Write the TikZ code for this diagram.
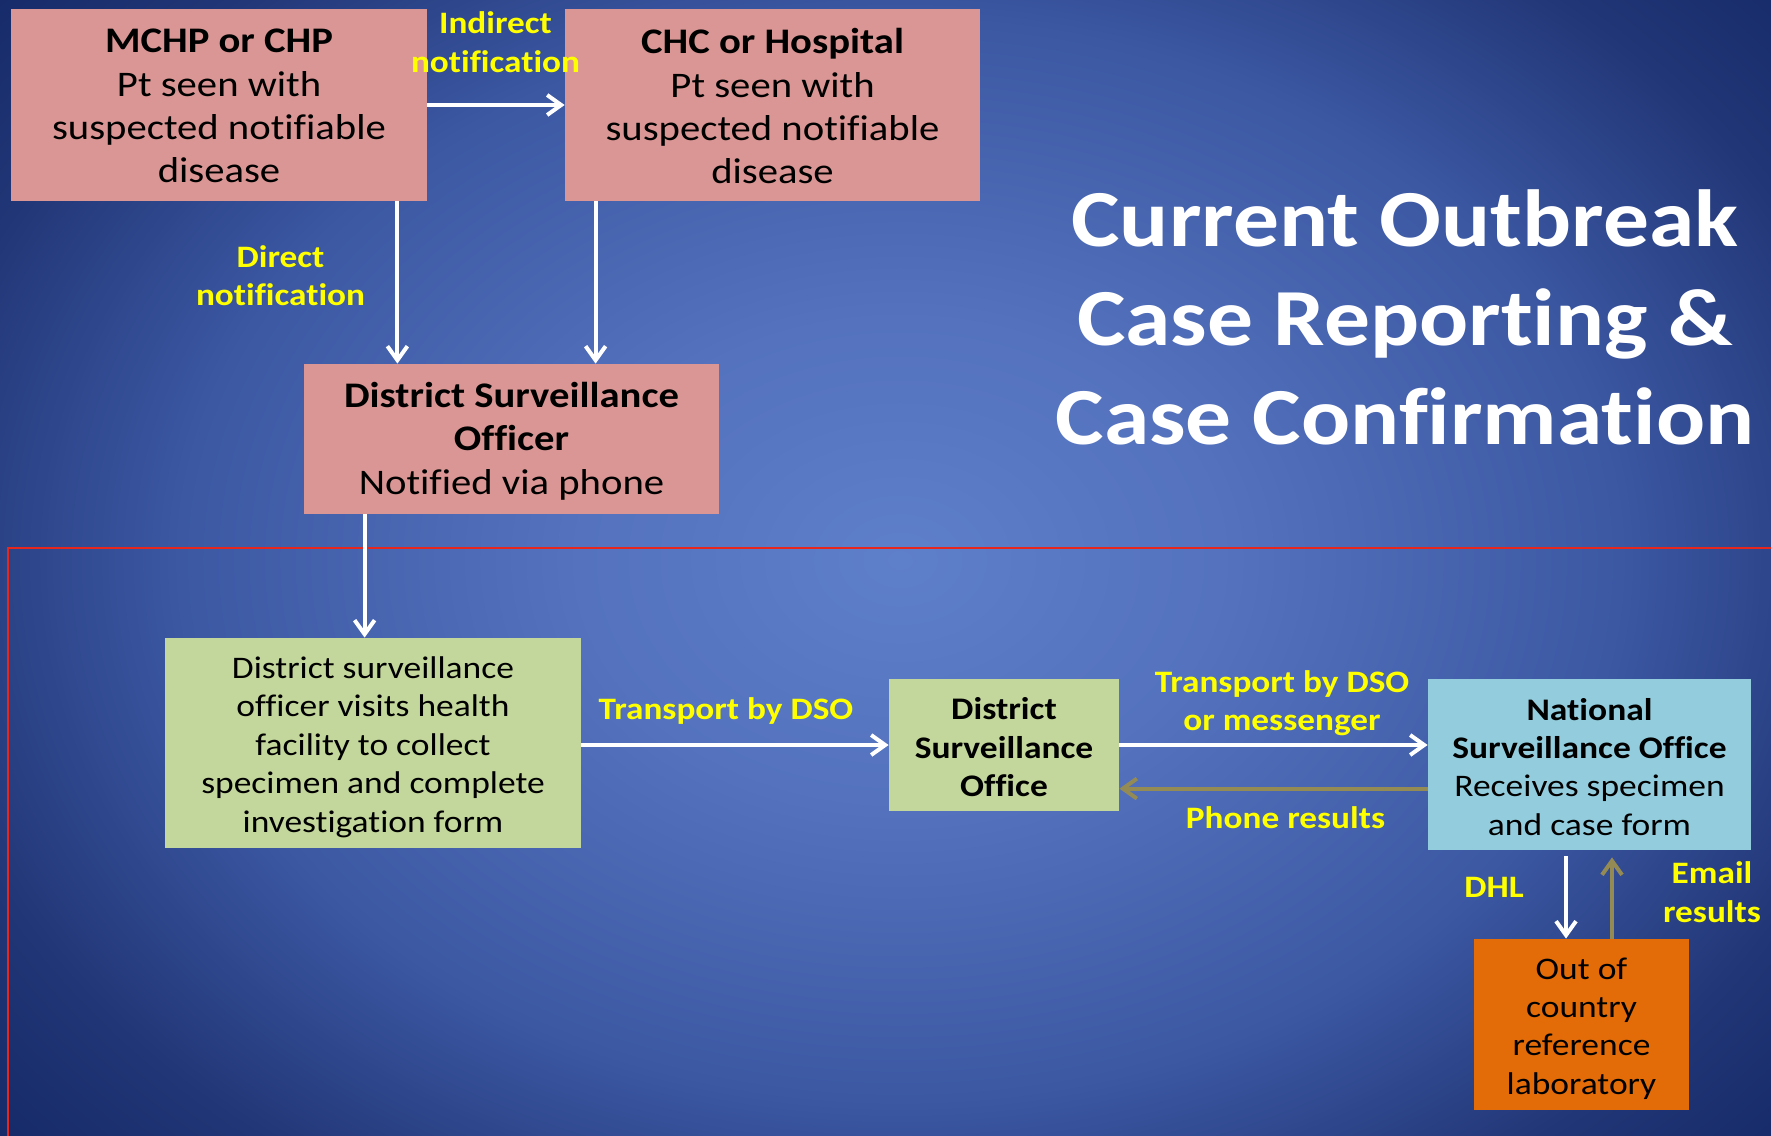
\documentclass[tikz,border=0pt]{standalone}
\usepackage{fontspec}
\setmainfont{Carlito}[FakeStretch=1.13,Ligatures=NoCommon]
\usetikzlibrary{arrows.meta,calc}
\definecolor{pinkbox}{HTML}{D99694}
\definecolor{greenbox}{HTML}{C3D69B}
\definecolor{bluebox}{HTML}{93CDDD}
\definecolor{orangebox}{HTML}{E36C09}
\definecolor{lblyellow}{HTML}{FFFF00}
\definecolor{olivearrow}{HTML}{948A54}
\definecolor{framered}{HTML}{E8261C}
\definecolor{bgA}{RGB}{94,127,202}
\definecolor{bgB}{RGB}{84,114,190}
\definecolor{bgC}{RGB}{60,88,163}
\definecolor{bgD}{RGB}{33,54,118}
\definecolor{bgE}{RGB}{16,36,98}
\pgfdeclareradialshading{bgshade}{\pgfpoint{0bp}{0bp}}{color(0bp)=(bgA); color(8bp)=(bgB); color(18bp)=(bgC); color(25bp)=(bgD); color(32bp)=(bgE); color(50bp)=(bgE)}
\begin{document}
\begin{tikzpicture}[x=0.5pt,y=-0.5pt,
  box/.style={inner sep=0pt},
  boxtxt/.style={inner sep=0pt, align=center, text=black},
  bigtext/.style={boxtxt, font=\fontsize{18pt}{21.7pt}\selectfont},
  smalltext/.style={boxtxt, font=\fontsize{15.7pt}{19.2pt}\selectfont},
  lbl/.style={inner sep=0pt, align=center, text=lblyellow, font=\bfseries\fontsize{15.6pt}{19.2pt}\selectfont},
  titletext/.style={inner sep=0pt, align=center, text=white, font=\bfseries\fontsize{40.5pt}{49.5pt}\selectfont},
  warrow/.style={draw=white, line width=2pt, -{Straight Barb[length=7pt,width=10pt]}},
  oarrow/.style={draw=olivearrow, line width=2pt, -{Straight Barb[length=7pt,width=10pt]}},
  frameline/.style={draw=framered, line width=1pt}
]
\useasboundingbox (0,0) rectangle (1771,1135);
\begin{scope}
  \clip (0,0) rectangle (1771,1135);
  \shade[shading=bgshade] (-100,-190) rectangle (1900,1310);
  \draw[frameline] (1800,548) -- (8,548) -- (8,1160);
\end{scope}

% boxes
\node[box, fill=pinkbox, minimum width=208pt, minimum height=96pt,
  label={[bigtext, yshift=-0.6pt]center:{\textbf{MCHP or CHP}\\Pt seen with\\suspected notifiable\\disease}}] (mchp) at (219,105) {};
\node[box, fill=pinkbox, minimum width=207.5pt, minimum height=96pt,
  label={[bigtext, yshift=-0.6pt]center:{\textbf{CHC or Hospital}\\Pt seen with\\suspected notifiable\\disease}}] (chc) at (772.5,105) {};
\node[box, fill=pinkbox, minimum width=207.5pt, minimum height=75pt,
  label={[bigtext, yshift=-1.1pt]center:{\textbf{District Surveillance}\\\textbf{Officer}\\Notified via phone}}] (dso) at (511.5,439) {};
\node[box, fill=greenbox, minimum width=208pt, minimum height=105pt,
  label={[smalltext, yshift=-2pt]center:{District surveillance\\officer visits health\\facility to collect\\specimen and complete\\investigation form}}] (visit) at (373,743) {};
\node[box, fill=greenbox, minimum width=115pt, minimum height=66pt,
  label={[smalltext, yshift=-1.1pt]center:{\textbf{District}\\\textbf{Surveillance}\\\textbf{Office}}}] (dsoff) at (1004,745) {};
\node[box, fill=bluebox, minimum width=161.5pt, minimum height=85.5pt,
  label={[smalltext, yshift=-1.1pt]center:{\textbf{National}\\\textbf{Surveillance Office}\\Receives specimen\\and case form}}] (nso) at (1589.5,764.5) {};
\node[box, fill=orangebox, minimum width=107.5pt, minimum height=85.5pt,
  label={[smalltext, yshift=-2pt]center:{Out of\\country\\reference\\laboratory}}] (lab) at (1581.5,1024.5) {};

% title
\node[titletext] (ttl) at (1405,317) {Current Outbreak\\Case Reporting \&\\Case Confirmation};

% labels
\node[lbl] (lind) at (495.5,42) {Indirect\\notification};
\node[lbl] (ldir) at (280.5,275.5) {Direct\\notification};
\node[lbl] (ltr1) at (726,711) {Transport by DSO};
\node[lbl] (ltr2) at (1282,703) {Transport by DSO\\or messenger};
\node[lbl] (lph) at (1285.5,818) {Phone results};
\node[lbl] (ldhl) at (1494,887) {DHL};
\node[lbl] (lem) at (1712,892) {Email\\results};

% connectors
\draw[warrow] (mchp.east) -- (chc.west);
\coordinate (a1) at ([xshift=-15pt]mchp.south east);
\draw[warrow] (a1) -- (a1 |- dso.north);
\coordinate (a2) at ([xshift=15.5pt]chc.south west);
\draw[warrow] (a2) -- (a2 |- dso.north);
\coordinate (a3) at ([xshift=30.5pt]dso.south west);
\draw[warrow] (a3) -- (a3 |- visit.north);
\draw[warrow] (visit.east |- dsoff.west) -- (dsoff.west);
\draw[warrow] (dsoff.east) -- (dsoff.east -| nso.west);
\coordinate (a4) at ([yshift=-21.8pt]dsoff.east);
\draw[oarrow] (a4 -| nso.west) -- (a4);
\coordinate (a5) at ([xshift=-7.75pt]lab.north);
\coordinate (n5) at (a5 |- nso.south);
\draw[warrow] ([yshift=-3pt]n5) -- (a5);
\coordinate (a7) at ([xshift=15.25pt]lab.north);
\coordinate (n7) at (a7 |- nso.south);
\draw[oarrow] (a7) -- ([yshift=-3.5pt]n7);
\end{tikzpicture}
\end{document}
